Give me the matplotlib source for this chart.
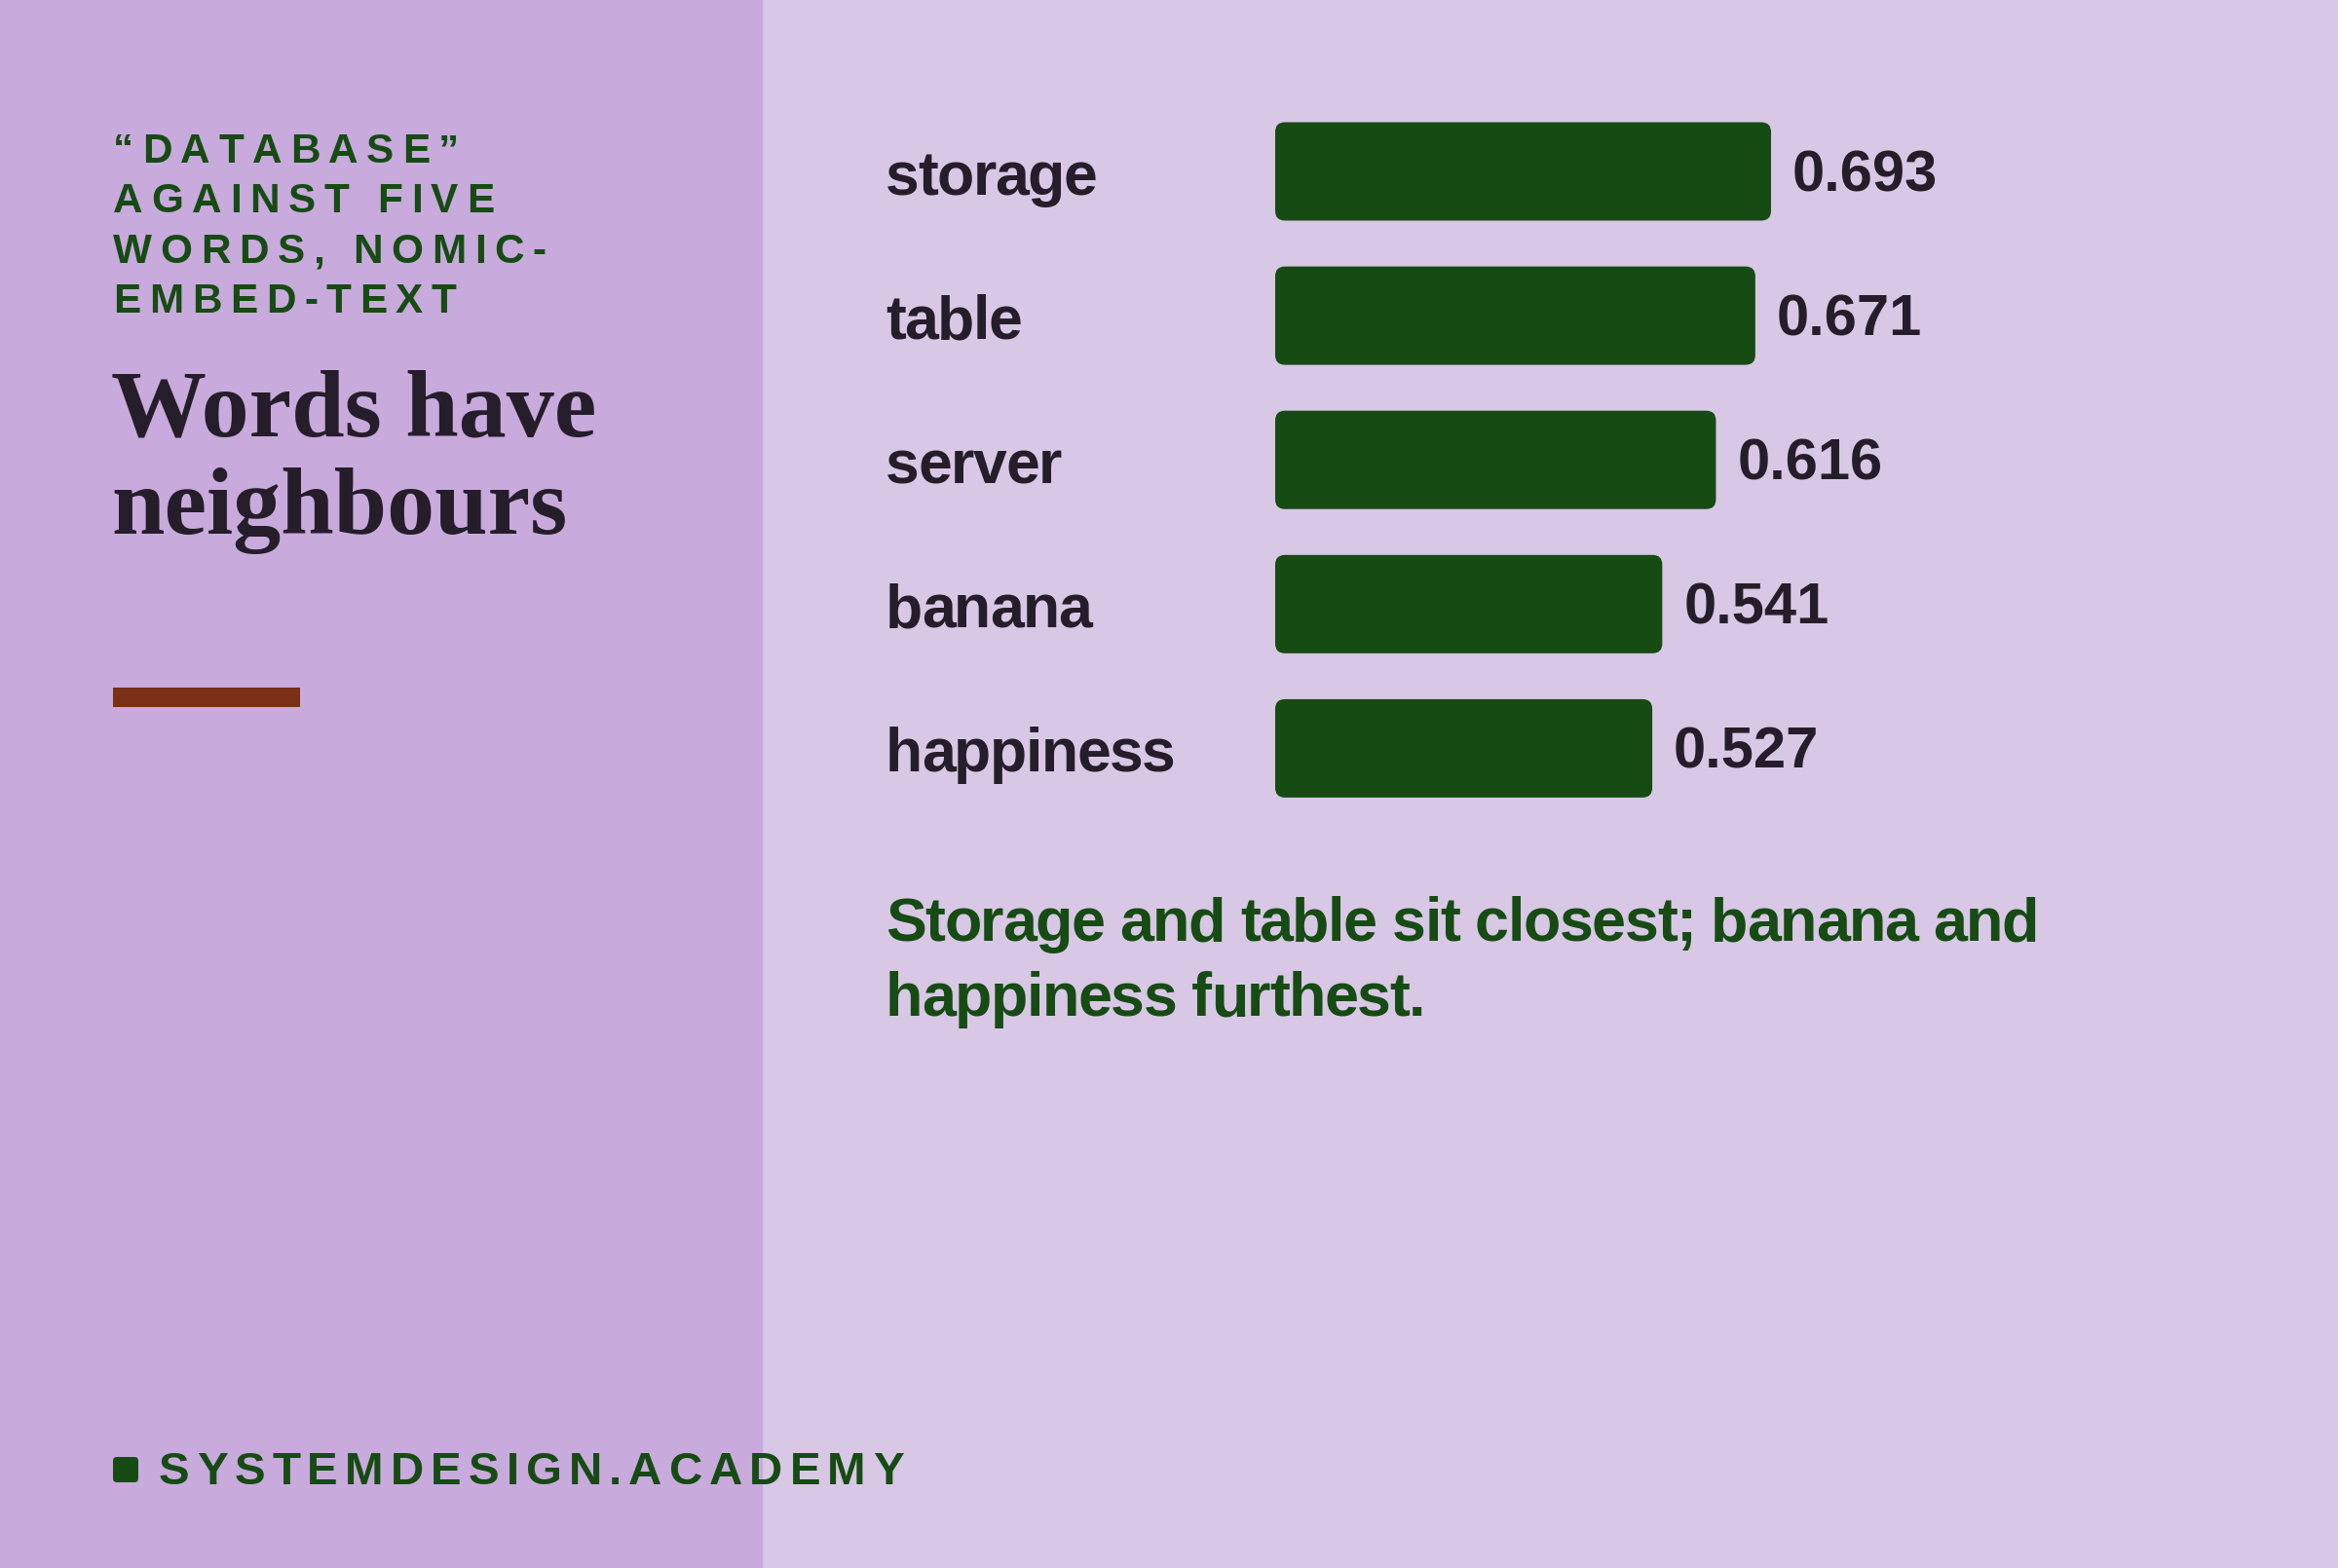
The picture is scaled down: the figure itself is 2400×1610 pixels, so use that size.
import matplotlib
matplotlib.use('Agg')
import matplotlib.pyplot as plt
from matplotlib.patches import Rectangle, FancyBboxPatch
from matplotlib.font_manager import FontProperties, findfont, get_font
from matplotlib.transforms import ScaledTranslation, blended_transform_factory

# Data
words = ['storage', 'table', 'server', 'banana', 'happiness']
scores = [0.693, 0.671, 0.616, 0.541, 0.527]
kicker = ['\u201cDATABASE\u201d', 'AGAINST FIVE', 'WORDS, NOMIC-', 'EMBED-TEXT']
title = ['Words have', 'neighbours']
caption = ['Storage and table sit closest; banana and', 'happiness furthest.']
footer = 'SYSTEMDESIGN.ACADEMY'

# Colours
LEFT_BG = '#c8aadc'
RIGHT_BG = '#d8c7e5'
GREEN = '#164b13'
INK = '#251e2a'
ACCENT = '#7a2f17'

W, H, DPI = 2400, 1610, 200
SANS = FontProperties(family='Liberation Sans', weight='bold')
SERIF = FontProperties(family='Liberation Serif', weight='bold')

fig = plt.figure(figsize=(W / DPI, H / DPI), dpi=DPI)
bg = fig.add_axes([0, 0, 1, 1])
bg.set_xlim(0, W)
bg.set_ylim(H, 0)
bg.axis('off')

bg.add_patch(Rectangle((0, 0), 784, H, color=LEFT_BG, zorder=0))
bg.add_patch(Rectangle((784, 0), W - 784, H, color=RIGHT_BG, zorder=0))


def tracked(ax, x, y, s, size, track, color, transform=None):
    # draw text char by char with extra letter spacing (track, in px)
    if transform is None:
        transform = ax.transData
    font = get_font(findfont(SANS))
    font.set_size(size, 72)
    dx = 0.0
    for ch in s:
        tr = transform + ScaledTranslation(dx / DPI, 0, fig.dpi_scale_trans)
        ax.text(x, y, ch, transform=tr, fontproperties=SANS, fontsize=size,
                color=color, va='baseline', ha='left')
        g = font.load_char(ord(ch))
        dx += g.linearHoriAdvance / 65536 * DPI / 72 + track


# left panel
for i, line in enumerate(kicker):
    tracked(bg, 116, 167 + 51.3 * i, line, 15.2, 8.6, GREEN)

for i, line in enumerate(title):
    bg.text(114, 447 + 101 * i, line, fontproperties=SERIF, fontsize=35.3,
            color=INK, va='baseline', ha='left')

bg.add_patch(Rectangle((116, 706), 192, 20, color=ACCENT, lw=0))

# footer
bg.add_patch(FancyBboxPatch((116, 1496), 26, 26,
                            boxstyle='round,pad=0,rounding_size=4',
                            color=GREEN, lw=0))
tracked(bg, 163, 1524, footer, 17.1, 7.0, GREEN)

# caption
for i, line in enumerate(caption):
    tracked(bg, 909, 966 + 77 * i, line, 22.6, -1.4, GREEN)

# bar chart
px_per_unit = 734.5
pitch = 148.1
x0, top = 1309, 176 - pitch / 2
ax = fig.add_axes([x0 / W, 1 - (top + pitch * 5) / H,
                   (W - x0) / W, pitch * 5 / H])
ax.set_xlim(0, (W - x0) / px_per_unit)
ax.set_ylim(len(words) - 0.5, -0.5)
ax.axis('off')
ax.patch.set_alpha(0)

bar_h = 101 / pitch
bars = ax.barh(range(len(words)), scores, height=bar_h, color=GREEN)
radius = 10 / px_per_unit
aspect = px_per_unit / pitch
for b in bars:
    b.set_visible(False)
    ax.add_patch(FancyBboxPatch((b.get_x(), b.get_y()), b.get_width(), b.get_height(),
                                boxstyle=f'round,pad=0,rounding_size={radius}',
                                mutation_aspect=aspect, color=GREEN, lw=0))

label_tr = blended_transform_factory(bg.transData, ax.transData) + \
    ScaledTranslation(0, -24 / DPI, fig.dpi_scale_trans)
value_tr = ax.transData + ScaledTranslation(22 / DPI, -20 / DPI, fig.dpi_scale_trans)
for i, (w, v) in enumerate(zip(words, scores)):
    tracked(ax, 909, i, w, 22.5, -1.4, INK, transform=label_tr)
    ax.text(v, i, f'{v:.3f}', transform=value_tr, fontproperties=SANS,
            fontsize=21.5, color=INK, va='baseline', ha='left')

plt.savefig('out.png', dpi=DPI)
